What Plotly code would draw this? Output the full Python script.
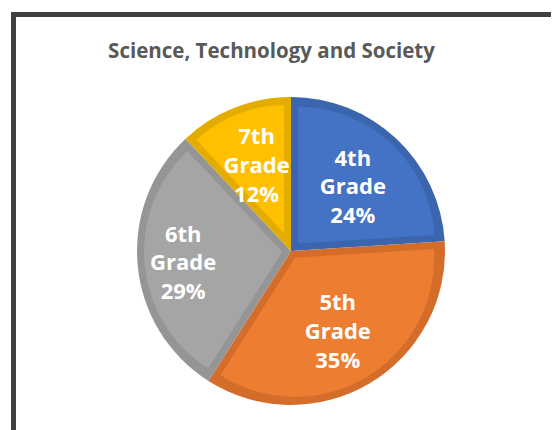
import math
import plotly.graph_objects as go

grades = ["4th", "5th", "6th", "7th"]
shares = [24, 35, 29, 12]
fill_colors = ["#4472C4", "#ED7D31", "#A5A5A5", "#FFC000"]
edge_colors = ["#3C65AF", "#D46D2A", "#959595", "#E5AC00"]

W, H = 559, 430
off = 8                # page body margin shifts the figure
cx, cy = 291 - off, 251 - off   # pie centre in figure px
R = 154                # outer radius in px
inset = 7              # width of the darker inner rim

# label placement (text-only pie layered on top)
label_r = 128
label_pull = [0.112, 0.189, 0.2875, 0.0]


def dom(radius):
    return dict(x=[(cx - radius) / W, (cx + radius) / W],
                y=[1 - (cy + radius) / H, 1 - (cy - radius) / H])


fig = go.Figure()

# darker full pie underneath -> becomes the rim
fig.add_trace(go.Pie(
    labels=grades, values=shares, sort=False, direction="clockwise", rotation=0,
    marker=dict(colors=edge_colors, line=dict(width=0)),
    textinfo="none", hoverinfo="skip", domain=dom(R),
))

# lighter inner part of each slice, pulled along its bisector to inset it
total = sum(shares)
for i, v in enumerate(shares):
    half = math.pi * v / total
    s = inset / math.sin(half)
    r_i = R - inset - s
    pulls = [0] * len(shares)
    pulls[i] = s / r_i
    colors = ["rgba(0,0,0,0)"] * len(shares)
    colors[i] = fill_colors[i]
    fig.add_trace(go.Pie(
        labels=grades, values=shares, sort=False, direction="clockwise", rotation=0,
        pull=pulls, marker=dict(colors=colors, line=dict(width=0)),
        textinfo="none", hoverinfo="skip", domain=dom(R - inset),
    ))

# labels on top
fig.add_trace(go.Pie(
    labels=grades, values=shares, sort=False, direction="clockwise", rotation=0,
    pull=label_pull,
    marker=dict(colors=["rgba(0,0,0,0)"] * 4, line=dict(width=0)),
    texttemplate="%{label}<br>Grade<br>%{percent:.0%}",
    textposition="inside", insidetextorientation="horizontal",
    textfont=dict(family="Open Sans", size=22, color="white", weight="bold"),
    hoverinfo="skip", domain=dom(label_r * (1 + max(label_pull))),
))

fig.update_layout(
    width=W, height=H,
    margin=dict(l=0, r=0, t=0, b=0),
    paper_bgcolor="white",
    showlegend=False,
    uniformtext=dict(mode="show", minsize=22),
    title=dict(text="<b>Science, Technology and Society</b>",
               x=(271.5 - off) / W, xanchor="center", y=1 - (51 - off) / H, yanchor="middle",
               font=dict(family="Open Sans", size=20.5, color="#595959")),
    shapes=[dict(type="rect", xref="paper", yref="paper",
                 x0=(13.5 - off) / W, x1=1.2, y0=-0.2, y1=1 - (14.5 - off) / H,
                 line=dict(color="#404040", width=5))],
)

fig.write_html("out.html")
